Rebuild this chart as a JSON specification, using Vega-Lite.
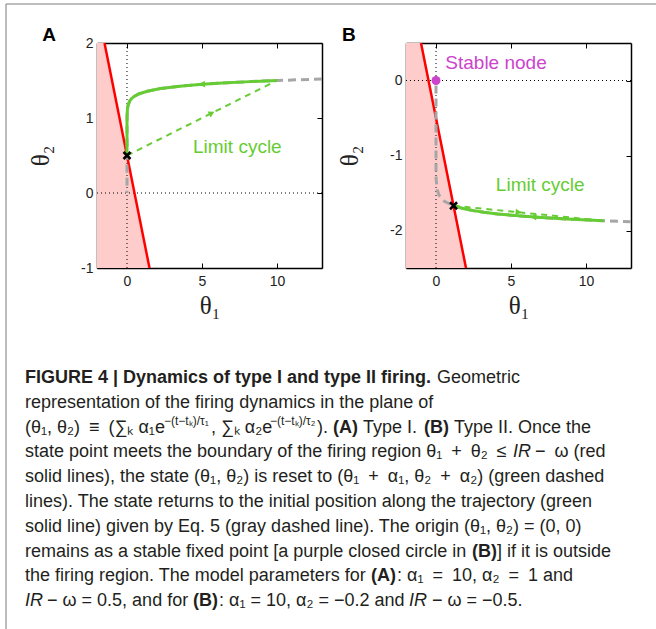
{
  "$schema": "https://vega.github.io/schema/vega-lite/v6.json",
  "width": 650,
  "height": 625,
  "autosize": {"type": "none"},
  "padding": {"left": 6, "top": 4, "right": 0, "bottom": 0},
  "background": "white",
  "config": {
    "font": "Liberation Sans",
    "view": {"stroke": null},
    "axis": {"grid": false, "domain": true, "domainColor": "black", "domainWidth": 1.5, "tickColor": "black", "tickSize": -5, "tickWidth": 1, "labelFont": "Liberation Sans", "labelFontSize": 14, "labelColor": "#222", "labelPadding": 11, "titleFont": "Liberation Serif", "titleFontSize": 25, "titleFontWeight": "normal", "titleColor": "#222", "zindex": 1}
  },
  "datasets": {
    "capReg": [
      {"line": 1, "col": 437, "txt": "Geometric"},
      {"line": 2, "col": 25, "txt": "representation of the firing dynamics in the plane of"},
      {"line": 3, "col": 25, "txt": "(θ₁, θ₂)\u2002≡\u2002(∑ₖ α₁e"},
      {"line": 3, "col": 211, "txt": ", ∑ₖ α₂e"},
      {"line": 3, "col": 317, "txt": ")."},
      {"line": 3, "col": 363, "txt": "Type I."},
      {"line": 3, "col": 454, "txt": "Type II. Once the"},
      {"line": 4, "col": 25, "txt": "state point meets the boundary of the firing region θ₁\u2002+\u2002θ₂\u2002≤"},
      {"line": 4, "col": 535, "txt": "−\u2002ω (red"},
      {"line": 5, "col": 25, "txt": "solid lines), the state (θ₁, θ₂) is reset to (θ₁\u2002+\u2002α₁, θ₂\u2002+\u2002α₂) (green dashed"},
      {"line": 6, "col": 25, "txt": "lines). The state returns to the initial position along the trajectory (green"},
      {"line": 7, "col": 25, "txt": "solid line) given by Eq. 5 (gray dashed line). The origin (θ₁, θ₂) = (0, 0)"},
      {"line": 8, "col": 25, "txt": "remains as a stable fixed point [a purple closed circle in"},
      {"line": 8, "col": 497, "txt": "] if it is outside"},
      {"line": 9, "col": 25, "txt": "the firing region. The model parameters for"},
      {"line": 9, "col": 397, "txt": ": α₁\u2002=\u200210, α₂\u2002=\u20021 and"},
      {"line": 10, "col": 47, "txt": "− ω = 0.5, and for"},
      {"line": 10, "col": 219, "txt": ": α₁ = 10, α₂ = −0.2 and"},
      {"line": 10, "col": 432, "txt": "− ω = −0.5."}
    ],
    "capBold": [
      {"line": 1, "col": 25, "txt": "FIGURE 4 | Dynamics of type I and type II firing."},
      {"line": 3, "col": 333, "txt": "(A)"},
      {"line": 3, "col": 424, "txt": "(B)"},
      {"line": 8, "col": 472, "txt": "(B)"},
      {"line": 9, "col": 371, "txt": "(A)"},
      {"line": 10, "col": 193, "txt": "(B)"}
    ],
    "capItal": [
      {"line": 4, "col": 513, "txt": "IR"},
      {"line": 10, "col": 25, "txt": "IR"},
      {"line": 10, "col": 409, "txt": "IR"}
    ],
    "capSup": [
      {"line": 3, "col": 164, "txt": "−(t−tₖ)/τ₁"},
      {"line": 3, "col": 270, "txt": "−(t−tₖ)/τ₂"}
    ]
  },
  "layer": [
    {
      "data": {"values": [{}]},
      "mark": {"type": "rule", "color": "#7a7a7a", "strokeWidth": 1},
      "encoding": {"x": {"datum": 0, "type": "quantitative", "scale": {"domain": [0, 1], "range": [0, 650], "nice": false, "zero": false}, "axis": null}}
    },
    {
      "data": {"values": [{}]},
      "mark": {"type": "rule", "color": "#7a7a7a", "strokeWidth": 1},
      "encoding": {"y": {"datum": 1, "type": "quantitative", "scale": {"domain": [0, 1], "range": [625, 0], "nice": false, "zero": false}, "axis": null}}
    },
    {
      "encoding": {
        "x": {"field": "t1", "type": "quantitative", "scale": {"domain": [-2, 13], "range": [91, 316], "nice": false, "zero": false}, "axis": null},
        "y": {"field": "t2", "type": "quantitative", "scale": {"domain": [-1, 2], "range": [264, 39], "nice": false, "zero": false}, "axis": null}
      },
      "layer": [
        {
          "data": {"values": [{"t1": -1.5, "t2": 2}, {"t1": 1.5, "t2": -1}]},
          "mark": {"type": "area", "orient": "horizontal", "color": "#FFCCCC"},
          "encoding": {
            "x": {"field": "t1", "type": "quantitative", "scale": {"domain": [-2, 13], "range": [91, 316], "nice": false, "zero": false}, "axis": {"orient": "bottom", "offset": -361, "values": [0, 5, 10], "title": "θ₁", "labelExpr": "datum.value", "titlePadding": 5}},
            "x2": {"datum": -2},
            "y": {"field": "t2", "type": "quantitative", "scale": {"domain": [-1, 2], "range": [264, 39], "nice": false, "zero": false}, "axis": {"orient": "left", "offset": -91, "values": [-1, 0, 1, 2], "title": "θ₂", "labelExpr": "datum.value", "labelPadding": 9, "titlePadding": 27}}
          }
        },
        {
          "data": {"values": [{"t1": 0, "t2": -1}, {"t1": 0, "t2": 2}]},
          "mark": {"type": "line", "color": "black", "strokeWidth": 1, "strokeDash": [1, 3]},
          "encoding": {
            "x": {"field": "t1", "type": "quantitative", "scale": {"domain": [-2, 13], "range": [91, 316], "nice": false, "zero": false}, "axis": {"orient": "top", "offset": -39, "values": [0, 5, 10], "labels": false, "title": null}}
          }
        },
        {
          "data": {"values": [{"t1": -2, "t2": 0}, {"t1": 13, "t2": 0}]},
          "mark": {"type": "line", "color": "black", "strokeWidth": 1, "strokeDash": [1, 3]},
          "encoding": {
            "y": {"field": "t2", "type": "quantitative", "scale": {"domain": [-1, 2], "range": [264, 39], "nice": false, "zero": false}, "axis": {"orient": "right", "offset": -334, "values": [-1, 0, 1, 2], "labels": false, "title": null}}
          }
        },
        {
          "data": {"values": [{"t1": -1.5, "t2": 2}, {"t1": 1.5, "t2": -1}]},
          "mark": {"type": "line", "color": "#FF0000", "strokeWidth": 2.5}
        },
        {
          "data": {"values": [
            {"t1": 13.0, "t2": 1.520}, {"t1": 10, "t2": 1.5}, {"t1": 8.187, "t2": 1.485}, {"t1": 6.065, "t2": 1.463},
            {"t1": 5.0, "t2": 1.449}, {"t1": 3.679, "t2": 1.427}, {"t1": 2.231, "t2": 1.392}, {"t1": 1.353, "t2": 1.357},
            {"t1": 0.821, "t2": 1.324}, {"t1": 0.498, "t2": 1.291}, {"t1": 0.302, "t2": 1.259}, {"t1": 0.183, "t2": 1.228},
            {"t1": 0.067, "t2": 1.168}, {"t1": 0.025, "t2": 1.111}, {"t1": 0.003, "t2": 1.006}, {"t1": 0.0005, "t2": 0.910},
            {"t1": 0, "t2": 0.745}, {"t1": 0, "t2": 0.5}, {"t1": 0, "t2": 0.25}, {"t1": 0, "t2": 0}
          ]},
          "mark": {"type": "line", "color": "#A6A6A6", "strokeWidth": 3, "strokeDash": [8, 5]},
          "encoding": {"order": {"value": null}}
        },
        {
          "data": {"values": [
            {"t1": 10, "t2": 1.5}, {"t1": 8.187, "t2": 1.485}, {"t1": 6.065, "t2": 1.463},
            {"t1": 5.0, "t2": 1.449}, {"t1": 3.679, "t2": 1.427}, {"t1": 2.231, "t2": 1.392}, {"t1": 1.353, "t2": 1.357},
            {"t1": 0.821, "t2": 1.324}, {"t1": 0.498, "t2": 1.291}, {"t1": 0.302, "t2": 1.259}, {"t1": 0.183, "t2": 1.228},
            {"t1": 0.067, "t2": 1.168}, {"t1": 0.025, "t2": 1.111}, {"t1": 0.003, "t2": 1.006}, {"t1": 0.0005, "t2": 0.910},
            {"t1": 0, "t2": 0.745}, {"t1": 0, "t2": 0.5}
          ]},
          "mark": {"type": "line", "color": "#66CC33", "strokeWidth": 3},
          "encoding": {"order": {"value": null}}
        },
        {
          "data": {"values": [{"t1": 0, "t2": 0.5}, {"t1": 10, "t2": 1.5}]},
          "mark": {"type": "line", "color": "#66CC33", "strokeWidth": 2, "strokeDash": [6, 5]}
        },
        {
          "data": {"values": [{"t1": 5.65, "t2": 1.065}]},
          "mark": {"type": "point", "shape": "triangle-right", "filled": true, "color": "#66CC33", "size": 45, "angle": -26.6, "opacity": 1}
        },
        {
          "data": {"values": [{"t1": 5.0, "t2": 1.449}]},
          "mark": {"type": "point", "shape": "triangle-left", "filled": true, "color": "#66CC33", "size": 45, "angle": -4.3, "opacity": 1}
        },
        {
          "data": {"values": [{"t1": 0, "t2": 0.5}]},
          "mark": {"type": "point", "shape": "M-1,-1L1,1M-1,1L1,-1", "filled": false, "color": "black", "strokeWidth": 2.5, "size": 49, "opacity": 1}
        },
        {
          "data": {"values": [{"t1": 4.4, "t2": 0.61, "label": "Limit cycle"}]},
          "mark": {"type": "text", "align": "left", "baseline": "middle", "fontSize": 19, "color": "#66CC33"},
          "encoding": {"text": {"field": "label"}}
        },
        {
          "data": {"values": [{"t1": -5.2, "t2": 2.11, "label": "A"}]},
          "mark": {"type": "text", "align": "center", "baseline": "middle", "fontSize": 19, "fontWeight": "bold", "color": "black"},
          "encoding": {"text": {"field": "label"}}
        }
      ],
      "resolve": {"axis": {"x": "independent", "y": "independent"}}
    },
    {
      "encoding": {
        "x": {"field": "t1", "type": "quantitative", "scale": {"domain": [-2, 13], "range": [400, 625], "nice": false, "zero": false}, "axis": null},
        "y": {"field": "t2", "type": "quantitative", "scale": {"domain": [-2.5, 0.5], "range": [264, 39], "nice": false, "zero": false}, "axis": null}
      },
      "layer": [
        {
          "data": {"values": [{"t1": -1, "t2": 0.5}, {"t1": 2, "t2": -2.5}]},
          "mark": {"type": "area", "orient": "horizontal", "color": "#FFCCCC"},
          "encoding": {
            "x": {"field": "t1", "type": "quantitative", "scale": {"domain": [-2, 13], "range": [400, 625], "nice": false, "zero": false}, "axis": {"orient": "bottom", "offset": -361, "values": [0, 5, 10], "title": "θ₁", "labelExpr": "datum.value", "titlePadding": 5}},
            "x2": {"datum": -2},
            "y": {"field": "t2", "type": "quantitative", "scale": {"domain": [-2.5, 0.5], "range": [264, 39], "nice": false, "zero": false}, "axis": {"orient": "left", "offset": -400, "values": [-2, -1, 0], "title": "θ₂", "labelExpr": "datum.value", "labelPadding": 9, "titlePadding": 27}}
          }
        },
        {
          "data": {"values": [{"t1": 0, "t2": -2.5}, {"t1": 0, "t2": 0.5}]},
          "mark": {"type": "line", "color": "black", "strokeWidth": 1, "strokeDash": [1, 3]},
          "encoding": {
            "x": {"field": "t1", "type": "quantitative", "scale": {"domain": [-2, 13], "range": [400, 625], "nice": false, "zero": false}, "axis": {"orient": "top", "offset": -39, "values": [0, 5, 10], "labels": false, "title": null}}
          }
        },
        {
          "data": {"values": [{"t1": -2, "t2": 0}, {"t1": 13, "t2": 0}]},
          "mark": {"type": "line", "color": "black", "strokeWidth": 1, "strokeDash": [1, 3]},
          "encoding": {
            "y": {"field": "t2", "type": "quantitative", "scale": {"domain": [-2.5, 0.5], "range": [264, 39], "nice": false, "zero": false}, "axis": {"orient": "right", "offset": -25, "values": [-2, -1, 0], "labels": false, "title": null}}
          }
        },
        {
          "data": {"values": [{"t1": -1, "t2": 0.5}, {"t1": 2, "t2": -2.5}]},
          "mark": {"type": "line", "color": "#FF0000", "strokeWidth": 2.5}
        },
        {
          "data": {"values": [
            {"t1": 13, "t2": -1.884}, {"t1": 11.17, "t2": -1.87}, {"t1": 8.699, "t2": -1.847}, {"t1": 6.775, "t2": -1.824},
            {"t1": 5.276, "t2": -1.801}, {"t1": 4.109, "t2": -1.779}, {"t1": 3.2, "t2": -1.757}, {"t1": 2.492, "t2": -1.735},
            {"t1": 1.941, "t2": -1.713}, {"t1": 1.512, "t2": -1.692}, {"t1": 1.17, "t2": -1.67}, {"t1": 0.556, "t2": -1.61},
            {"t1": 0.205, "t2": -1.531}, {"t1": 0.075, "t2": -1.456}, {"t1": 0.01, "t2": -1.317}, {"t1": 0.0005, "t2": -1.134},
            {"t1": 0, "t2": -0.688}, {"t1": 0, "t2": -0.417}, {"t1": 0, "t2": -0.153}, {"t1": 0, "t2": 0}
          ]},
          "mark": {"type": "line", "color": "#A6A6A6", "strokeWidth": 3, "strokeDash": [8, 5]},
          "encoding": {"order": {"value": null}}
        },
        {
          "data": {"values": [
            {"t1": 11.17, "t2": -1.87}, {"t1": 8.699, "t2": -1.847}, {"t1": 6.775, "t2": -1.824},
            {"t1": 5.276, "t2": -1.801}, {"t1": 4.109, "t2": -1.779}, {"t1": 3.2, "t2": -1.757}, {"t1": 2.492, "t2": -1.735},
            {"t1": 1.941, "t2": -1.713}, {"t1": 1.512, "t2": -1.692}, {"t1": 1.17, "t2": -1.67}
          ]},
          "mark": {"type": "line", "color": "#66CC33", "strokeWidth": 3},
          "encoding": {"order": {"value": null}}
        },
        {
          "data": {"values": [{"t1": 1.17, "t2": -1.67}, {"t1": 11.17, "t2": -1.87}]},
          "mark": {"type": "line", "color": "#66CC33", "strokeWidth": 2, "strokeDash": [6, 5]}
        },
        {
          "data": {"values": [{"t1": 5.5, "t2": -1.757}]},
          "mark": {"type": "point", "shape": "triangle-right", "filled": true, "color": "#66CC33", "size": 45, "angle": 5.7, "opacity": 1}
        },
        {
          "data": {"values": [{"t1": 6.5, "t2": -1.82}]},
          "mark": {"type": "point", "shape": "triangle-left", "filled": true, "color": "#66CC33", "size": 45, "angle": 4.3, "opacity": 1}
        },
        {
          "data": {"values": [{"t1": 1.17, "t2": -1.67}]},
          "mark": {"type": "point", "shape": "M-1,-1L1,1M-1,1L1,-1", "filled": false, "color": "black", "strokeWidth": 2.5, "size": 49, "opacity": 1}
        },
        {
          "data": {"values": [{"t1": 0, "t2": 0}]},
          "mark": {"type": "point", "shape": "circle", "filled": true, "color": "#CC44CC", "size": 80, "opacity": 1}
        },
        {
          "data": {"values": [{"t1": 0.62, "t2": 0.23, "label": "Stable node"}]},
          "mark": {"type": "text", "align": "left", "baseline": "middle", "fontSize": 19, "color": "#CC44CC"},
          "encoding": {"text": {"field": "label"}}
        },
        {
          "data": {"values": [{"t1": 3.99, "t2": -1.39, "label": "Limit cycle"}]},
          "mark": {"type": "text", "align": "left", "baseline": "middle", "fontSize": 19, "color": "#66CC33"},
          "encoding": {"text": {"field": "label"}}
        },
        {
          "data": {"values": [{"t1": -5.81, "t2": 0.607, "label": "B"}]},
          "mark": {"type": "text", "align": "center", "baseline": "middle", "fontSize": 19, "fontWeight": "bold", "color": "black"},
          "encoding": {"text": {"field": "label"}}
        }
      ],
      "resolve": {"axis": {"x": "independent", "y": "independent"}}
    },
    {
      "data": {"name": "capReg"},
      "mark": {"type": "text", "align": "left", "baseline": "middle", "font": "Liberation Sans", "fontSize": 18, "color": "#231f20"},
      "encoding": {
        "x": {"field": "col", "type": "quantitative", "scale": {"domain": [6, 656], "range": [0, 650], "nice": false, "zero": false}, "axis": null},
        "y": {"field": "line", "type": "quantitative", "scale": {"domain": [1, 10], "range": [374, 597.2], "nice": false, "zero": false}, "axis": null},
        "text": {"field": "txt"}
      }
    },
    {
      "data": {"name": "capBold"},
      "mark": {"type": "text", "align": "left", "baseline": "middle", "font": "Liberation Sans", "fontSize": 18, "fontWeight": "bold", "color": "#231f20"},
      "encoding": {
        "x": {"field": "col", "type": "quantitative", "scale": {"domain": [6, 656], "range": [0, 650], "nice": false, "zero": false}, "axis": null},
        "y": {"field": "line", "type": "quantitative", "scale": {"domain": [1, 10], "range": [374, 597.2], "nice": false, "zero": false}, "axis": null},
        "text": {"field": "txt"}
      }
    },
    {
      "data": {"name": "capItal"},
      "mark": {"type": "text", "align": "left", "baseline": "middle", "font": "Liberation Sans", "fontSize": 18, "fontStyle": "italic", "color": "#231f20"},
      "encoding": {
        "x": {"field": "col", "type": "quantitative", "scale": {"domain": [6, 656], "range": [0, 650], "nice": false, "zero": false}, "axis": null},
        "y": {"field": "line", "type": "quantitative", "scale": {"domain": [1, 10], "range": [374, 597.2], "nice": false, "zero": false}, "axis": null},
        "text": {"field": "txt"}
      }
    },
    {
      "data": {"name": "capSup"},
      "mark": {"type": "text", "align": "left", "baseline": "middle", "font": "Liberation Sans", "fontSize": 12, "dy": -7, "color": "#231f20"},
      "encoding": {
        "x": {"field": "col", "type": "quantitative", "scale": {"domain": [6, 656], "range": [0, 650], "nice": false, "zero": false}, "axis": null},
        "y": {"field": "line", "type": "quantitative", "scale": {"domain": [1, 10], "range": [374, 597.2], "nice": false, "zero": false}, "axis": null},
        "text": {"field": "txt"}
      }
    }
  ],
  "resolve": {"scale": {"x": "independent", "y": "independent"}, "axis": {"x": "independent", "y": "independent"}}
}
